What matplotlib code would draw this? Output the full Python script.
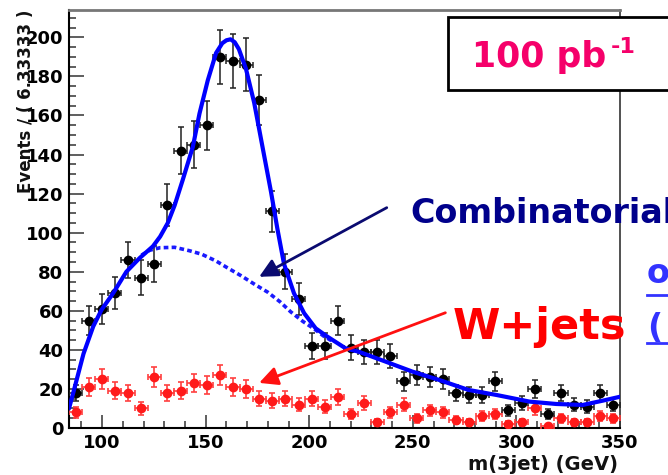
import numpy as np
import matplotlib
matplotlib.use('Agg')
import matplotlib.pyplot as plt
from matplotlib.patches import Rectangle
from matplotlib.ticker import MultipleLocator

plt.rcParams['font.family'] = ['DejaVu Sans']
plt.rcParams['font.weight'] = 'bold'

# ── data ──
x_lo, x_hi, n_bins = 84.0, 350.0, 42
data_counts = [18, 55, 61, 69, 86, 77, 84, 114, 142, 145, 155, 190, 188, 186,
               168, 111, 80, 66, 42, 42, 55, 41, 39, 39, 37, 24, 27, 26,
               25, 18, 17, 17, 24, 9, 13, 20, 7, 18, 12, 11, 18, 12]
wjets_counts = [8, 21, 25, 19, 18, 10, 26, 18, 19, 23, 22, 27, 21, 20,
                15, 14, 15, 12, 15, 11, 16, 7, 13, 3, 8, 12, 5, 9,
                8, 4, 3, 6, 7, 2, 3, 10, 1, 5, 3, 3, 6, 5]

fit_x = [84, 86, 91, 95.7, 99.7, 105.3, 111.7, 118.1, 124.5, 128, 131.7, 135,
         138.9, 143.8, 147, 151, 155, 158, 160, 162, 164, 166, 169.4, 173.4,
         177.4, 181.5, 184.6, 187.8, 192.6, 197.5, 203.1, 208.7, 217.5, 224,
         236.8, 249.7, 262.7, 276.8, 290.4, 306.4, 319.2, 332, 341.7, 350]
fit_y = [10, 17.8, 38, 52, 60.5, 69, 80, 87, 93, 98, 105, 114,
         127, 144, 161, 178, 192, 197, 198.5, 199, 197.5, 194, 184, 166.5,
         144, 121, 102, 84, 69, 58.8, 51, 46.8, 40.8, 39,
         34, 28.9, 24.6, 19.5, 16.9, 13.5, 12.3, 11.8, 14, 16]

comb_x = [119, 123, 128, 135, 142, 148, 155, 160.5, 167, 174, 180, 186,
          191, 197, 202, 207, 211]
comb_y = [88.5, 91, 92.3, 92.5, 90.8, 89, 85.5, 82, 78, 73.3, 69.5, 64.5,
          59.5, 54.5, 51, 47, 44.5]

# ── figure ──
W, H = 668, 475
fig = plt.figure(figsize=(W / 100, H / 100), dpi=100)
fig.patch.set_facecolor('white')
ax = fig.add_axes([69 / W, 1 - 428 / H, (620 - 69) / W, (428 - 10) / H])
ax.set_xlim(x_lo, x_hi)
ax.set_ylim(0, 214)

edges = np.linspace(x_lo, x_hi, n_bins + 1)
centers = 0.5 * (edges[:-1] + edges[1:])
half_w = 0.5 * (edges[1] - edges[0])

d = np.array(data_counts, dtype=float)
r = np.array(wjets_counts, dtype=float)

ax.errorbar(centers, r, yerr=np.sqrt(r), xerr=half_w, fmt='o', ms=6,
            color='#ff1a1a', ecolor='#ff4040', elinewidth=1.2, capsize=2.5,
            capthick=1.2, zorder=3)
ax.errorbar(centers, d, yerr=np.sqrt(d), xerr=half_w, fmt='o', ms=6,
            color='black', ecolor='#222222', elinewidth=1.1, capsize=2.5,
            capthick=1.1, zorder=4)

ax.plot(comb_x, comb_y, color='#1a1aff', lw=2.6, ls=(0, (1.3, 0.9)), zorder=5)
ax.plot(fit_x, fit_y, color='#0000ff', lw=3.0, zorder=6, solid_capstyle='round')

# ── axes styling (ROOT-like) ──
ax.xaxis.set_major_locator(MultipleLocator(50))
ax.xaxis.set_minor_locator(MultipleLocator(10))
ax.yaxis.set_major_locator(MultipleLocator(20))
ax.yaxis.set_minor_locator(MultipleLocator(5))
ax.tick_params(which='both', direction='in', top=False, right=False,
               color='#333333', width=1.1, labelsize=13)
ax.tick_params(axis='y', which='major', length=10.5, pad=4)
ax.tick_params(axis='y', which='minor', length=5)
ax.tick_params(axis='x', which='major', length=9.5, pad=4)
ax.tick_params(axis='x', which='minor', length=5)
for lab in ax.get_xticklabels() + ax.get_yticklabels():
    lab.set_fontweight('bold')
ax.spines['left'].set_linewidth(1.5)
ax.spines['bottom'].set_linewidth(1.5)
ax.spines['top'].set_color('#777777')
ax.spines['top'].set_linewidth(2)
ax.spines['right'].set_color('#333333')
ax.spines['right'].set_linewidth(1.2)

# y title sits over the upper tick labels, as in the original ROOT canvas
fig.text(26 / W, 1 - 10 / H, 'Events / ( 6.33333 )', rotation=90,
         ha='center', va='top', fontsize=12, fontweight='bold', color='#111111')
fig.text(618 / W, 1 - 464 / H, 'm(3jet) (GeV)', ha='right', va='center',
         fontsize=14, fontweight='bold', color='#111111')

# ── arrows ──
ax.annotate('', xy=(175.8, 77.4), xytext=(237.4, 112.8),
            arrowprops=dict(arrowstyle='-|>', color='#0a0a70', lw=2,
                            mutation_scale=28, shrinkA=0, shrinkB=0),
            annotation_clip=False, zorder=7)
ax.annotate('', xy=(175.8, 23.1), xytext=(265.7, 59.0),
            arrowprops=dict(arrowstyle='-|>', color='#ff1010', lw=2,
                            mutation_scale=28, shrinkA=0, shrinkB=0),
            annotation_clip=False, zorder=7)

# ── slide annotations (clipped at the right edge like the original) ──
fig.text(410 / W, 1 - 223 / H, 'Combinatorial', ha='left', va='baseline',
         fontsize=24, fontweight='bold', color='#00008b', zorder=10)
fig.text(453 / W, 1 - 339 / H, 'W+jets', ha='left', va='baseline',
         fontsize=31, fontweight='bold', color='#ff0000', zorder=10)

fig.text(647 / W, 1 - 283 / H, 'o', ha='left', va='baseline',
         fontsize=24, fontweight='bold', color='#3333ff', zorder=10)
fig.text(647 / W, 1 - 338 / H, '(', ha='left', va='baseline',
         fontsize=24, fontweight='bold', color='#3333ff', zorder=10)
fig.add_artist(plt.Line2D([647 / W, 1], [1 - 295 / H] * 2, color='#3333ff', lw=2))
fig.add_artist(plt.Line2D([647 / W, 1], [1 - 343 / H] * 2, color='#3333ff', lw=2))

box = Rectangle((448 / W, 1 - 90 / H), 0.5, 73 / H, transform=fig.transFigure,
                facecolor='white', edgecolor='black', lw=2, zorder=8)
fig.add_artist(box)
fig.text(472 / W, 1 - 67 / H, '100 pb', ha='left', va='baseline',
         fontsize=25, fontweight='bold', color='#f5006a', zorder=9)
fig.text(611 / W, 1 - 53 / H, '-1', ha='left', va='baseline',
         fontsize=16, fontweight='bold', color='#f5006a', zorder=9)

fig.savefig('out.png', dpi=100, facecolor='white')
